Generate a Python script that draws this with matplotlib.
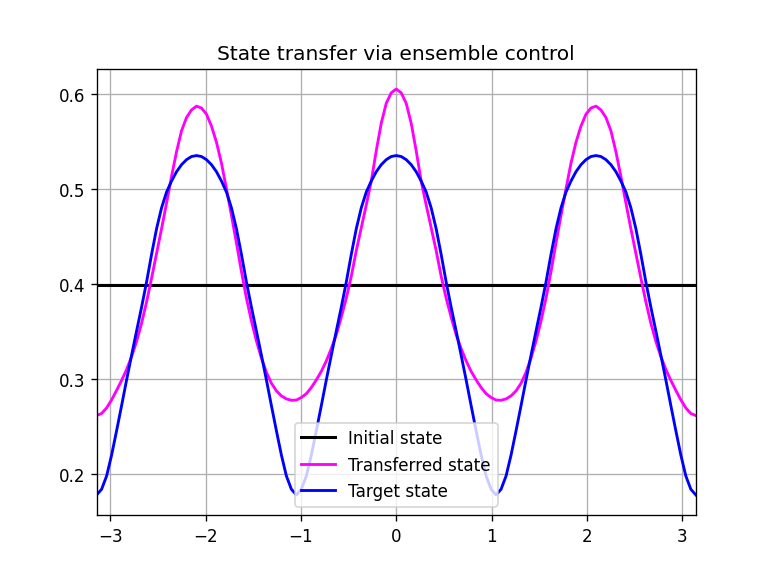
import numpy as np
import matplotlib
matplotlib.use('Agg')
import matplotlib.pyplot as plt

initial_value = 0.399

transferred = [
    0.2615, 0.2637, 0.2695, 0.278, 0.288, 0.2985, 0.310, 0.3235, 0.3395, 0.3585,
    0.381, 0.406, 0.432, 0.458, 0.485, 0.513, 0.539, 0.561, 0.575, 0.583,
    0.587, 0.585, 0.5785, 0.566, 0.549, 0.527, 0.500, 0.472, 0.443, 0.413,
    0.385, 0.361, 0.340, 0.322, 0.307, 0.2955, 0.2875, 0.2822, 0.279, 0.2776,
    0.2778, 0.2805, 0.2845, 0.291, 0.299, 0.308, 0.319, 0.332, 0.3465, 0.365,
    0.385, 0.408, 0.435, 0.459, 0.483, 0.508, 0.540, 0.569, 0.590, 0.601,
    0.605,
    0.601, 0.590, 0.569, 0.540, 0.508, 0.483, 0.459, 0.435, 0.408, 0.385,
    0.365, 0.3465, 0.332, 0.319, 0.308, 0.299, 0.291, 0.2845, 0.2805, 0.2778,
    0.2776, 0.279, 0.2822, 0.2875, 0.2955, 0.307, 0.322, 0.340, 0.361, 0.385,
    0.413, 0.443, 0.472, 0.500, 0.527, 0.549, 0.566, 0.5785, 0.585, 0.587,
    0.583, 0.575, 0.561, 0.539, 0.513, 0.485, 0.458, 0.432, 0.406, 0.381,
    0.3585, 0.3395, 0.3235, 0.310, 0.2985, 0.288, 0.278, 0.2695, 0.2637, 0.2615,
]

target = [
    0.178, 0.184, 0.198, 0.220, 0.2456, 0.272, 0.299, 0.325, 0.3505, 0.3755,
    0.402, 0.431, 0.458, 0.480, 0.4966, 0.5082, 0.518, 0.5254, 0.5307, 0.534,
    0.535, 0.534, 0.5307, 0.5254, 0.518, 0.5082, 0.4966, 0.480, 0.458, 0.431,
    0.402, 0.3755, 0.3505, 0.325, 0.299, 0.272, 0.2456, 0.220, 0.198, 0.184,
    0.178, 0.184, 0.198, 0.220, 0.2456, 0.272, 0.299, 0.325, 0.3505, 0.3755,
    0.402, 0.431, 0.458, 0.480, 0.4966, 0.5082, 0.518, 0.5254, 0.5307, 0.534,
    0.535,
    0.534, 0.5307, 0.5254, 0.518, 0.5082, 0.4966, 0.480, 0.458, 0.431, 0.402,
    0.3755, 0.3505, 0.325, 0.299, 0.272, 0.2456, 0.220, 0.198, 0.184, 0.178,
    0.184, 0.198, 0.220, 0.2456, 0.272, 0.299, 0.325, 0.3505, 0.3755, 0.402,
    0.431, 0.458, 0.480, 0.4966, 0.5082, 0.518, 0.5254, 0.5307, 0.534, 0.535,
    0.534, 0.5307, 0.5254, 0.518, 0.5082, 0.4966, 0.480, 0.458, 0.431, 0.402,
    0.3755, 0.3505, 0.325, 0.299, 0.272, 0.2456, 0.220, 0.198, 0.184, 0.178,
]

theta = np.linspace(-np.pi, np.pi, len(target))

fig = plt.figure(figsize=(6.4, 4.8), dpi=120.8)
plt.plot([theta[0], theta[-1]], [initial_value, initial_value], color='black', lw=1.8, label='Initial state')
plt.plot(theta, transferred, color='magenta', lw=1.7, label='Transferred state')
plt.plot(theta, target, color='blue', lw=1.7, label='Target state')
plt.xlim(-np.pi, np.pi)
plt.grid(True)
plt.title('State transfer via ensemble control')
plt.legend(loc='lower center')
plt.savefig('out.png', dpi=120.8)
